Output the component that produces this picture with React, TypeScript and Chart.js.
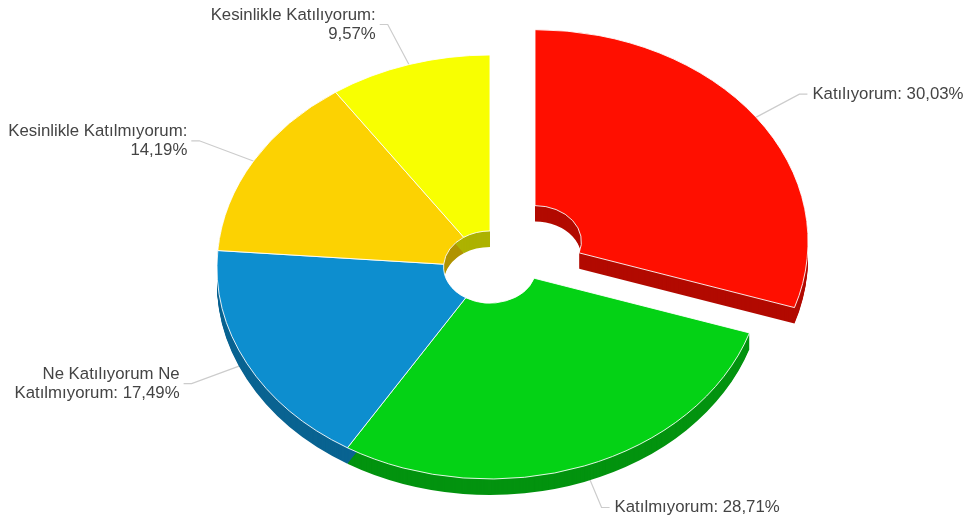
import React, { useEffect, useRef } from "react";
import { Chart, registerables } from "chart.js";

Chart.register(...registerables);

const categories = [
  "Katılıyorum",
  "Katılmıyorum",
  "Ne Katılıyorum Ne\nKatılmıyorum",
  "Kesinlikle Katılmıyorum",
  "Kesinlikle Katılıyorum",
];
const labelSeparators = [": ", ": ", ": ", ":\n", ":\n"];
const values = [30.03, 28.71, 17.49, 14.19, 9.57];
const topColors = ["#FF0F00", "#04D215", "#0D8ECF", "#FCD202", "#F8FF01"];
const wallColors = ["#B20A00", "#03930F", "#096391", "#B09301", "#ADB201"];

// layout of the 3D projection
const OUTER_RADIUS = 273;
const TILT = 212 / 273;
const DEPTH = 16;
const explodeDistances = [55.6, 0, 0, 0, 0];
// elbow of each leader line, relative to the slice's rim point
const elbowDx = [45, 18, -57, -56, -22];
const elbowDy = [-24, 43, 21, -21, -41.5];
const LINE_HEIGHT = 19;

const pie3dPlugin = {
  id: "pie3d",
  beforeDatasetDraw(chart: any) {
    const ctx = chart.ctx;
    const arcs = chart.getDatasetMeta(0).data;

    const project = (arc: any, i: number, dy: number) => {
      const mid = (arc.startAngle + arc.endAngle) / 2;
      ctx.translate(arc.x, arc.y + dy);
      ctx.scale(1, TILT);
      ctx.translate(-arc.x, -arc.y);
      ctx.translate(Math.cos(mid) * explodeDistances[i], Math.sin(mid) * explodeDistances[i]);
    };

    // leader lines and labels
    arcs.forEach((arc: any, i: number) => {
      const mid = (arc.startAngle + arc.endAngle) / 2;
      const r = arc.outerRadius - 2;
      const d = explodeDistances[i];
      const rimX = arc.x + Math.cos(mid) * (r + d);
      const rimY = arc.y + Math.sin(mid) * (r + d) * TILT;
      const ex = rimX + elbowDx[i];
      const ey = rimY + elbowDy[i];
      const dir = elbowDx[i] > 0 ? 1 : -1;
      ctx.save();
      ctx.strokeStyle = "#cccccc";
      ctx.lineWidth = 1.2;
      ctx.beginPath();
      ctx.moveTo(rimX, rimY);
      ctx.lineTo(ex, ey);
      ctx.lineTo(ex + dir * 8, ey);
      ctx.stroke();
      ctx.fillStyle = "#444444";
      ctx.font = '16.8px "Liberation Sans", Arial, sans-serif';
      ctx.textAlign = dir > 0 ? "left" : "right";
      ctx.textBaseline = "middle";
      const text = categories[i] + labelSeparators[i] + values[i].toFixed(2).replace(".", ",") + "%";
      const lines = text.split("\n");
      lines.forEach((line, k) => {
        const y = ey + (k - (lines.length - 1) / 2) * LINE_HEIGHT;
        ctx.fillText(line, ex + dir * (dir > 0 ? 13 : 12), y);
      });
      ctx.restore();
    });

    // side walls
    arcs.forEach((arc: any, i: number) => {
      const original = arc.options;
      arc.options = Object.assign(Object.create(original), {
        backgroundColor: wallColors[i],
        borderWidth: 0,
      });
      for (let dy = DEPTH; dy >= 1; dy--) {
        ctx.save();
        project(arc, i, dy);
        arc.draw(ctx);
        ctx.restore();
      }
      arc.options = original;
    });

    // top faces
    arcs.forEach((arc: any, i: number) => {
      ctx.save();
      project(arc, i, 0);
      arc.draw(ctx);
      ctx.restore();
    });

    return false;
  },
};

export default function App() {
  const ref = useRef<HTMLCanvasElement>(null);

  useEffect(() => {
    const chart = new Chart(ref.current as HTMLCanvasElement, {
      type: "doughnut",
      data: {
        labels: categories,
        datasets: [
          {
            data: values,
            backgroundColor: topColors,
            borderColor: "#ffffff",
            borderWidth: 1,
          },
        ],
      },
      options: {
        responsive: false,
        animation: false,
        radius: OUTER_RADIUS,
        cutout: "17%",
        layout: { padding: { left: 9, top: 12 } },
        plugins: { legend: { display: false }, tooltip: { enabled: false } },
      } as any,
      plugins: [pie3dPlugin as any],
    });
    return () => chart.destroy();
  }, []);

  return (
    <canvas
      ref={ref}
      width={971}
      height={522}
      style={{ position: "absolute", left: 0, top: 0, width: 971, height: 522, background: "#ffffff" }}
    />
  );
}
